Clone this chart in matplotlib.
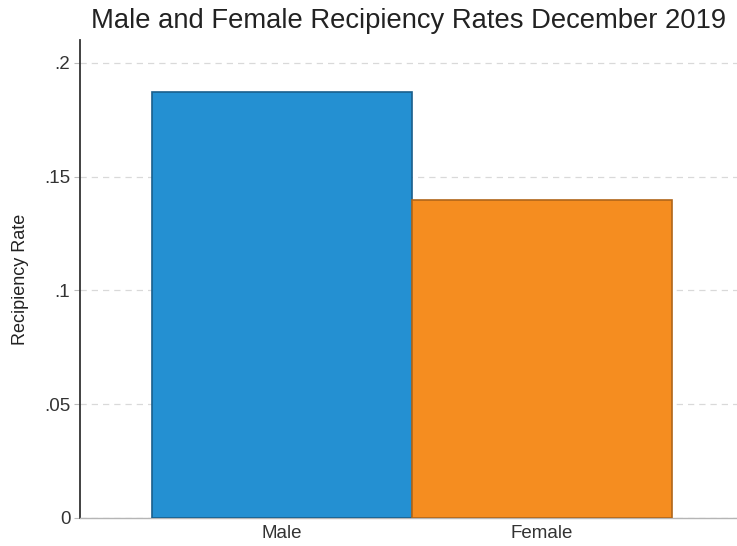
import matplotlib
matplotlib.use("Agg")
import matplotlib.pyplot as plt

plt.rcParams['font.family'] = ['Liberation Sans', 'DejaVu Sans']

categories = ["Male", "Female"]
rates = [0.187, 0.1395]
y_ticks = [0, 0.05, 0.1, 0.15, 0.2]
y_tick_labels = ["0", ".05", ".1", ".15", ".2"]

fill_colors = ["#2490d2", "#f58d20"]
edge_colors = ["#1a5f8c", "#b0661a"]

fig = plt.figure(figsize=(7.37, 5.46), dpi=100)
ax = fig.add_axes([80 / 737, 28 / 546, 657 / 737, 478 / 546])

positions = list(range(len(categories)))
ax.bar(positions, rates, width=1.0, color=fill_colors, edgecolor=edge_colors,
       linewidth=1.2, zorder=3)

ax.set_xlim(-0.777, 1.75)
ax.set_ylim(0, 0.21)
ax.set_xticks(positions)
ax.set_xticklabels(categories, fontsize=13.5, color="#333333")
ax.set_yticks(y_ticks)
ax.set_yticklabels(y_tick_labels, fontsize=13.5, color="#333333")
ax.tick_params(axis="x", length=0, pad=5)
ax.tick_params(axis="y", length=4, color="#bbbbbb", width=0.8, pad=3)

ax.yaxis.grid(True, linestyle=(0, (5, 4)), color="#d9d9d9", linewidth=0.9, zorder=0)
ax.set_axisbelow(True)

for side in ("top", "right"):
    ax.spines[side].set_visible(False)
ax.spines["left"].set_color("#333333")
ax.spines["left"].set_linewidth(1.3)
ax.spines["bottom"].set_color("#b5b5b5")
ax.spines["bottom"].set_linewidth(1.0)

ax.set_ylabel("Recipiency Rate", fontsize=13, color="#222222", labelpad=11)
ax.set_title("Male and Female Recipiency Rates December 2019", fontsize=19.7,
             color="#222222", pad=9)

fig.savefig("out.png", dpi=100, facecolor="white")
